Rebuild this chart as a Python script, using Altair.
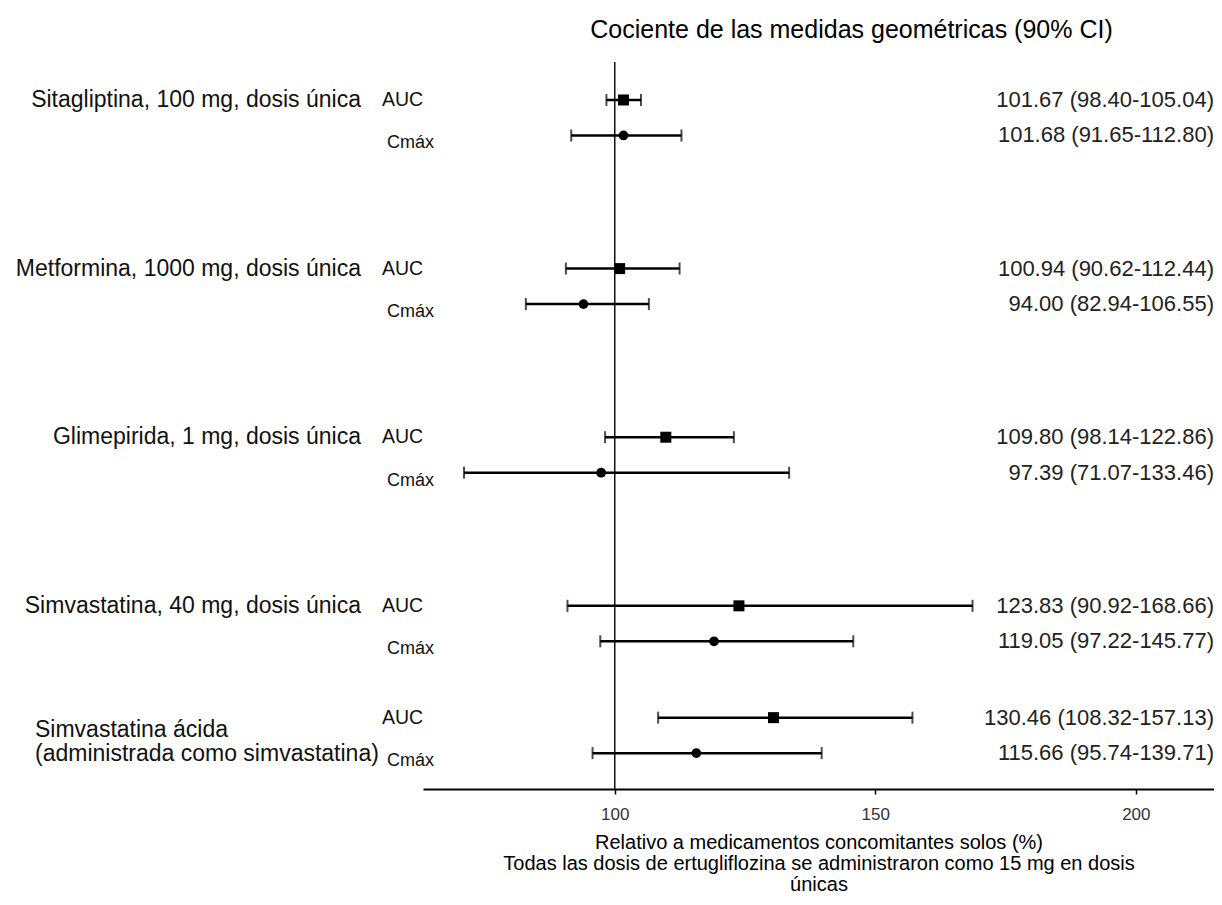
import altair as alt
import pandas as pd

# ---- data ----
drugs = [
    "Sitagliptina, 100 mg, dosis única",
    "Metformina, 1000 mg, dosis única",
    "Glimepirida, 1 mg, dosis única",
    "Simvastatina, 40 mg, dosis única",
    "Simvastatina ácida\n(administrada como simvastatina)",
]
measures = ["AUC", "Cmáx"]
auc_est = [101.67, 100.94, 109.80, 123.83, 130.46]
auc_lo = [98.40, 90.62, 98.14, 90.92, 108.32]
auc_hi = [105.04, 112.44, 122.86, 168.66, 157.13]
cmax_est = [101.68, 94.00, 97.39, 119.05, 115.66]
cmax_lo = [91.65, 82.94, 71.07, 97.22, 95.74]
cmax_hi = [112.80, 106.55, 133.46, 145.77, 139.71]
x_ticks = [100, 150, 200]

title_text = "Cociente de las medidas geométricas (90% CI)"
x_title = [
    "Relativo a medicamentos concomitantes solos (%)",
    "Todas las dosis de ertugliflozina se administraron como 15 mg en dosis",
    "únicas",
]

# ---- layout: row slots (groups separated by blank space) ----
group_gap = [4.75, 4.75, 4.75, 3.15]
starts = [0.0]
for g in group_gap:
    starts.append(starts[-1] + g)

rows = []
for i, d in enumerate(drugs):
    vals = [
        ("AUC", auc_est[i], auc_lo[i], auc_hi[i]),
        ("Cmáx", cmax_est[i], cmax_lo[i], cmax_hi[i]),
    ]
    for j, (m, e, lo, hi) in enumerate(vals):
        rows.append(dict(drug=d, measure=m, est=e, lo=lo, hi=hi,
                         slot=starts[i] + j,
                         label=f"{e:.2f} ({lo:.2f}-{hi:.2f})"))
df = pd.DataFrame(rows)

groups = pd.DataFrame({
    "drug": drugs,
    "lines": [d.count("\n") + 1 for d in drugs],
    "slot": [s + (0.5 if "\n" in d else 0.0) for s, d in zip(starts, drugs)],
})

FONT = "Liberation Sans"
W, H = 791, 727

xscale = alt.Scale(domain=[63.2, 215], nice=False, zero=False)
yscale = alt.Scale(domain=[-1.07, 19.41], reverse=True, nice=False, zero=False)
xaxis = alt.Axis(values=x_ticks, grid=False, title=x_title, format="d")


def X(field):
    return alt.X(field, type="quantitative", scale=xscale, axis=xaxis)


Y = alt.Y("slot:Q", scale=yscale, axis=None)

base = alt.Chart(df)

ref = alt.Chart(pd.DataFrame({"v": [0]})).mark_rule(
    color="#111", strokeWidth=1.5
).encode(x=alt.datum(100, scale=xscale))

whisk = base.mark_rule(color="black", strokeWidth=2.5).encode(
    x=X("lo"), x2="hi:Q", y=Y
)
cap_lo = base.mark_tick(color="black", thickness=2, size=12, orient="vertical").encode(
    x=X("lo"), y=Y
)
cap_hi = base.mark_tick(color="black", thickness=2, size=12, orient="vertical").encode(
    x=X("hi"), y=Y
)
pts = base.mark_point(filled=True, opacity=1, color="black").encode(
    x=X("est"), y=Y,
    shape=alt.Shape("measure:N", scale=alt.Scale(domain=measures, range=["square", "circle"]), legend=None),
    size=alt.Size("measure:N", scale=alt.Scale(domain=measures, range=[121, 95]), legend=None),
)

vals = base.mark_text(align="right", baseline="middle", font=FONT, fontSize=22,
                      color="#222").encode(
    x=alt.value(W), y=Y, text="label:N"
)

auc_lab = base.transform_filter(alt.datum.measure == "AUC").mark_text(
    align="left", baseline="middle", font=FONT, fontSize=19.5, color="#111"
).encode(x=alt.value(-41), y=Y, text="measure:N")

cmax_lab = base.transform_filter(alt.datum.measure == "Cmáx").mark_text(
    align="left", baseline="middle", font=FONT, fontSize=18, color="#111", dy=8
).encode(x=alt.value(-36), y=Y, text="measure:N")

gbase = alt.Chart(groups)
g1 = gbase.transform_filter(alt.datum.lines == 1).mark_text(
    align="right", baseline="middle", font=FONT, fontSize=23, color="#111"
).encode(x=alt.value(-62), y=Y, text="drug:N")
g2 = gbase.transform_filter(alt.datum.lines == 2).mark_text(
    align="left", baseline="middle", font=FONT, fontSize=23, color="#111",
    lineBreak="\n", lineHeight=24, dy=-5
).encode(x=alt.value(-388), y=Y, text="drug:N")

chart = alt.layer(ref, whisk, cap_lo, cap_hi, pts, vals, auc_lab, cmax_lab, g1, g2).properties(
    width=W, height=H,
    title=alt.TitleParams(title_text, font=FONT, fontSize=25, fontWeight="normal",
                          color="black", dx=33, offset=18),
    autosize="none",
    padding={"left": 415, "top": 54, "right": 0, "bottom": 108},
).configure_view(stroke=None).configure_axis(
    domainColor="black", domainWidth=2, tickColor="black", tickWidth=1.5, tickSize=5,
    labelFont=FONT, labelFontSize=17, labelColor="#333", labelPadding=12,
    titleFont=FONT, titleFontSize=20, titleFontWeight="normal", titleColor="black",
    titleLineHeight=21, titleBaseline="top", titleY=43,
)

chart.save("out.html", embed_options={"renderer": "svg", "actions": False})
